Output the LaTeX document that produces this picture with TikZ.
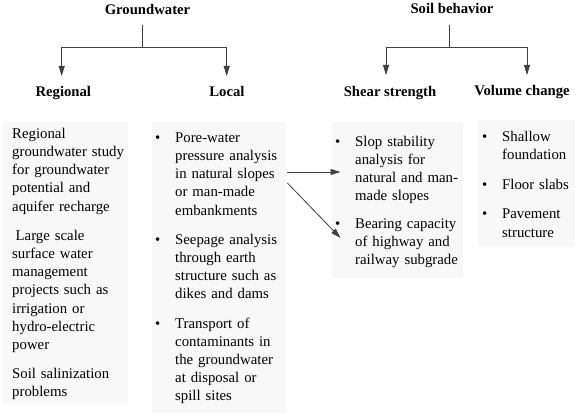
\documentclass[tikz,border=0pt]{standalone}
\usepackage{fontspec}
\setmainfont{Liberation Serif}
\usetikzlibrary{arrows.meta}
\definecolor{boxfill}{RGB}{248,248,248}
\newcommand\bfirst{\noindent\llap{\textbullet\hspace{15pt}}\strut}
\newcommand\bitem{\par\noindent\llap{\textbullet\hspace{15pt}}}
\begin{document}
\begin{tikzpicture}[x=1pt,y=-1pt,
  line/.style={draw=black!75,line width=0.8pt},
  arr/.style={line, -{Triangle[length=10pt,width=6pt]}},
  head/.style={font=\fontsize{14.7}{18}\selectfont\bfseries, inner sep=0pt, anchor=base},
  boxbg/.style={fill=boxfill, draw=none, anchor=north west, inner sep=0pt},
  txt/.style={font=\fontsize{14.8}{18.2}\selectfont, inner sep=0pt, anchor=north west, text width=150pt, align=left}
]
\useasboundingbox (0,0) rectangle (579,414);
\fill[white] (0,0) rectangle (579,414);

% headers
\node[head] (gw)  at (147.5,14.5) {Groundwater};
\node[head] (sb)  at (452,14) {Soil behavior};
\node[head] (reg) at (63.3,97) {Regional};
\node[head] (loc) at (227,97) {Local};
\node[head] (shr) at (390,96.5) {Shear strength};
\node[head] (vol) at (522,95.5) {Volume change};

% tree connectors
\coordinate (gwbar) at (142.7,47.7);
\coordinate (sbbar) at (449,47.7);
\draw[line] ([xshift=-4.8pt,yshift=-10.5pt]gw.base) -- (gwbar);
\draw[arr] (gwbar) -| ([xshift=-1.6pt,yshift=21pt]reg.base);
\draw[arr] (gwbar) -| ([xshift=-0.3pt,yshift=21pt]loc.base);
\draw[line] ([xshift=-3pt,yshift=-11pt]sb.base) -- (sbbar);
\draw[arr] (sbbar) -| ([xshift=-4pt,yshift=21.5pt]shr.base);
\draw[arr] (sbbar) -| ([xshift=5pt,yshift=20.5pt]vol.base);

% boxes
\node[boxbg, minimum width=125pt, minimum height=282pt] (regbox) at (3,122) {};
\node[boxbg, minimum width=134pt, minimum height=291pt] (locbox) at (152,122) {};
\node[boxbg, minimum width=131pt, minimum height=156pt] (shrbox) at (332,122) {};
\node[boxbg, minimum width=97pt, minimum height=127pt] (volbox) at (478,120) {};

% box texts
\node[txt] (regtxt) at (12,125.3) {\setlength{\parskip}{11pt}%
\strut Regional\\groundwater study\\for groundwater\\potential and\\aquifer recharge\par
\hspace*{3.5pt}Large scale\\surface water\\management\\projects such as\\irrigation or\\hydro-electric\\power\par
Soil salinization\\problems};

\node[txt] (loctxt) at (155,129.3) {\setlength{\parskip}{11pt}\setlength{\leftskip}{20pt}%
\bfirst Pore-water\\pressure analysis\\in natural slopes\\or man-made\\embankments
\bitem Seepage analysis\\through earth\\structure such as\\dikes and dams
\bitem Transport of\\contaminants in\\the groundwater\\at disposal or\\spill sites\par};

\node[txt] (shrtxt) at (335,133.3) {\setlength{\parskip}{9.5pt}\setlength{\leftskip}{20pt}%
\bfirst Slop stability\\analysis for\\natural and man-\\made slopes
\bitem Bearing capacity\\of highway and\\railway subgrade\par};

\node[txt] (voltxt) at (482,128.3) {\setlength{\parskip}{11.5pt}\setlength{\leftskip}{20pt}%
\bfirst Shallow\\foundation
\bitem Floor slabs
\bitem Pavement\\structure\par};

% cross arrows
\draw[arr] ([yshift=-50pt,xshift=1pt]locbox.north east) -- ([xshift=8.5pt,yshift=-50pt]shrbox.north west);
\draw[arr] ([yshift=-61pt,xshift=1pt]locbox.north east) -- ([xshift=8.5pt,yshift=-116pt]shrbox.north west);
\end{tikzpicture}
\end{document}
